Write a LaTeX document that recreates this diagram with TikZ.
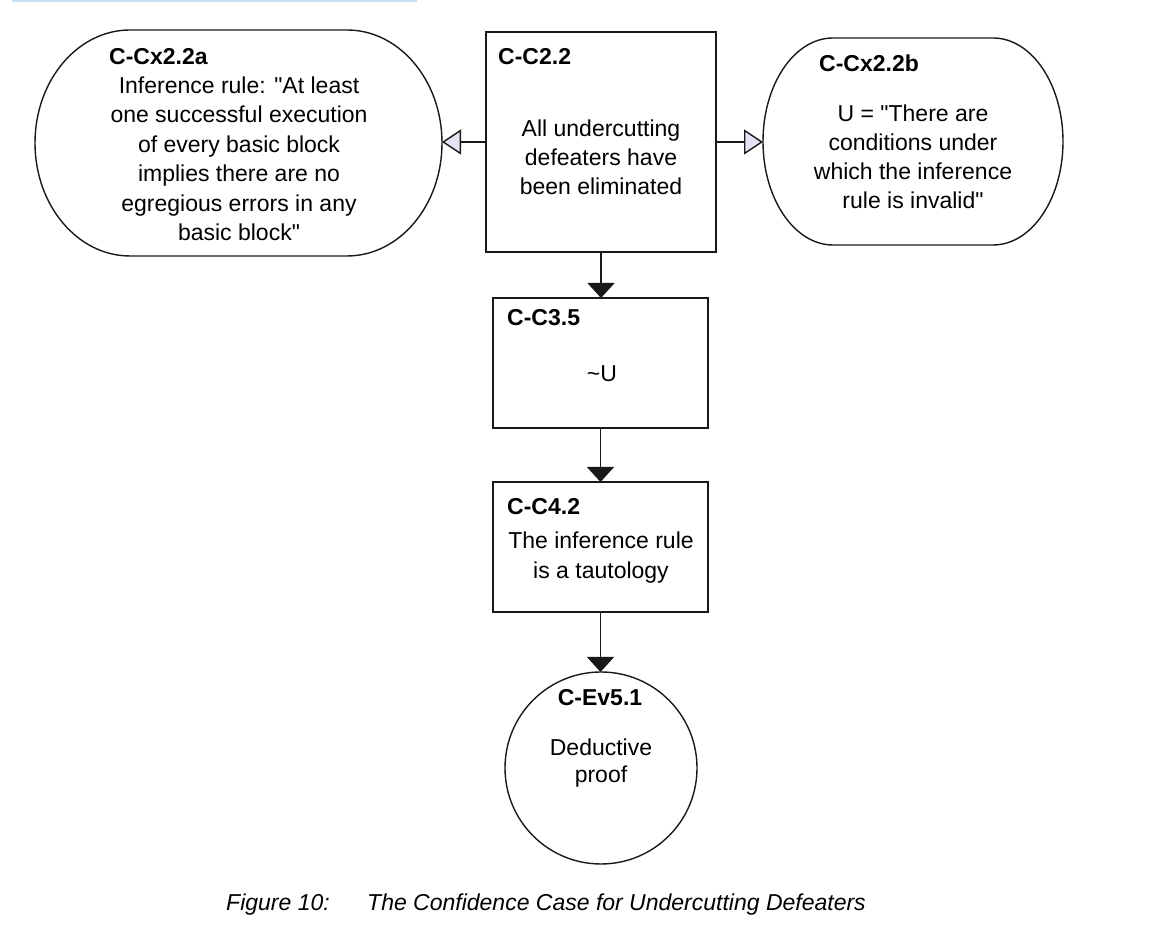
\documentclass[tikz,border=0pt]{standalone}
\usepackage{fontspec}
\setmainfont{Liberation Sans}[Ligatures=TeXOff]
\usetikzlibrary{arrows.meta}
\definecolor{ctxfill}{HTML}{E4E4F4}
\definecolor{topblue}{HTML}{C8DFF2}
\tikzset{
  x=1pt, y=1pt,
  ln/.style={line width=1.4pt, draw=black!90},
  shapebox/.style={inner sep=0pt, outer sep=0pt},
  boxnode/.style={ln, draw, rectangle, inner sep=0pt, outer sep=0pt},
  ttl/.style={font=\fontsize{23}{29.5}\selectfont\bfseries, inner sep=0pt, anchor=base west},
  bdy/.style={font=\fontsize{23}{29.5}\selectfont, align=center, inner sep=0pt},
  ctxarrow/.style={ln, -{Triangle[length=19pt,width=25pt,fill=ctxfill]}},
  solarrow/.style={ln, -{Triangle[length=15pt,width=27pt]}},
}
\begin{document}
\begin{tikzpicture}
\useasboundingbox (0,0) rectangle (1154,936);
\fill[topblue] (12,933.5) rectangle (417,936);

% left context
\node[shapebox, minimum width=407pt, minimum height=226pt] (L) at (238.5,793) {};
\draw[ln] ([xshift=95pt]L.north west) -- ([xshift=-95pt]L.north east)
  arc[start angle=90, end angle=-90, x radius=95pt, y radius=113pt]
  -- ([xshift=95pt]L.south west)
  arc[start angle=270, end angle=90, x radius=95pt, y radius=113pt] -- cycle;
\node[ttl] (Lt) at (109,871) {C-Cx2.2a};
\node[bdy] (Lb) at (239,777) {Inference rule: "At least\\one successful execution\\of every basic block\\implies there are no\\egregious errors in any\\basic block"};

% central claim
\node[boxnode, minimum width=230pt, minimum height=220pt] (C22) at (601,794) {};
\node[ttl] (C22t) at (498,871) {C-C2.2};
\node[bdy, font=\fontsize{23}{29}\selectfont] (C22b) at (601,779) {All undercutting\\defeaters have\\been eliminated};

% right context
\node[shapebox, minimum width=300pt, minimum height=207pt] (R) at (913,794.5) {};
\draw[ln] ([xshift=70pt]R.north west) -- ([xshift=-70pt]R.north east)
  arc[start angle=90, end angle=-90, x radius=70pt, y radius=103.5pt]
  -- ([xshift=70pt]R.south west)
  arc[start angle=270, end angle=90, x radius=70pt, y radius=103.5pt] -- cycle;
\node[ttl] (Rt) at (819,864) {C-Cx2.2b};
\node[bdy, font=\fontsize{23}{29}\selectfont] (Rb) at (913,779.5) {U = "There are\\conditions under\\which the inference\\rule is invalid"};

% C-C3.5
\node[boxnode, minimum width=215pt, minimum height=130pt] (C35) at (600.5,573) {};
\node[ttl] (C35t) at (507,610) {C-C3.5};
\node[bdy] (C35b) at (602,562) {\textasciitilde U};

% C-C4.2
\node[boxnode, minimum width=215pt, minimum height=130pt] (C42) at (600.5,389) {};
\node[ttl] (C42t) at (507,421) {C-C4.2};
\node[bdy, font=\fontsize{23}{30}\selectfont] (C42b) at (601,378) {The inference rule\\is a tautology};

% C-Ev5.1
\node[ln, draw, circle, minimum size=192pt, inner sep=0pt, outer sep=0pt] (Ev) at (601,168) {};
\node[ttl, anchor=base] (Evt) at (600,230) {C-Ev5.1};
\node[bdy, font=\fontsize{23}{27}\selectfont] (Evb) at (601,172.5) {Deductive\\proof};

% connectors
\draw[ctxarrow] (C22.west) -- (C22.west -| L.east);
\draw[ctxarrow] (C22.east) -- (C22.east -| R.west);
\draw[solarrow] (C22.south) -- (C22.south |- C35.north);
\draw[solarrow] (C35.south) -- (C35.south |- C42.north);
\draw[solarrow] (C42.south) -- (C42.south |- Ev.north);

% caption
\node[font=\fontsize{23}{28}\selectfont\itshape, inner sep=0pt, anchor=west] (capA) at (226,31) {Figure 10:};
\node[font=\fontsize{23}{28}\selectfont\itshape, inner sep=0pt, anchor=west] (capB) at (367,31) {The Confidence Case for Undercutting Defeaters};
\end{tikzpicture}
\end{document}
